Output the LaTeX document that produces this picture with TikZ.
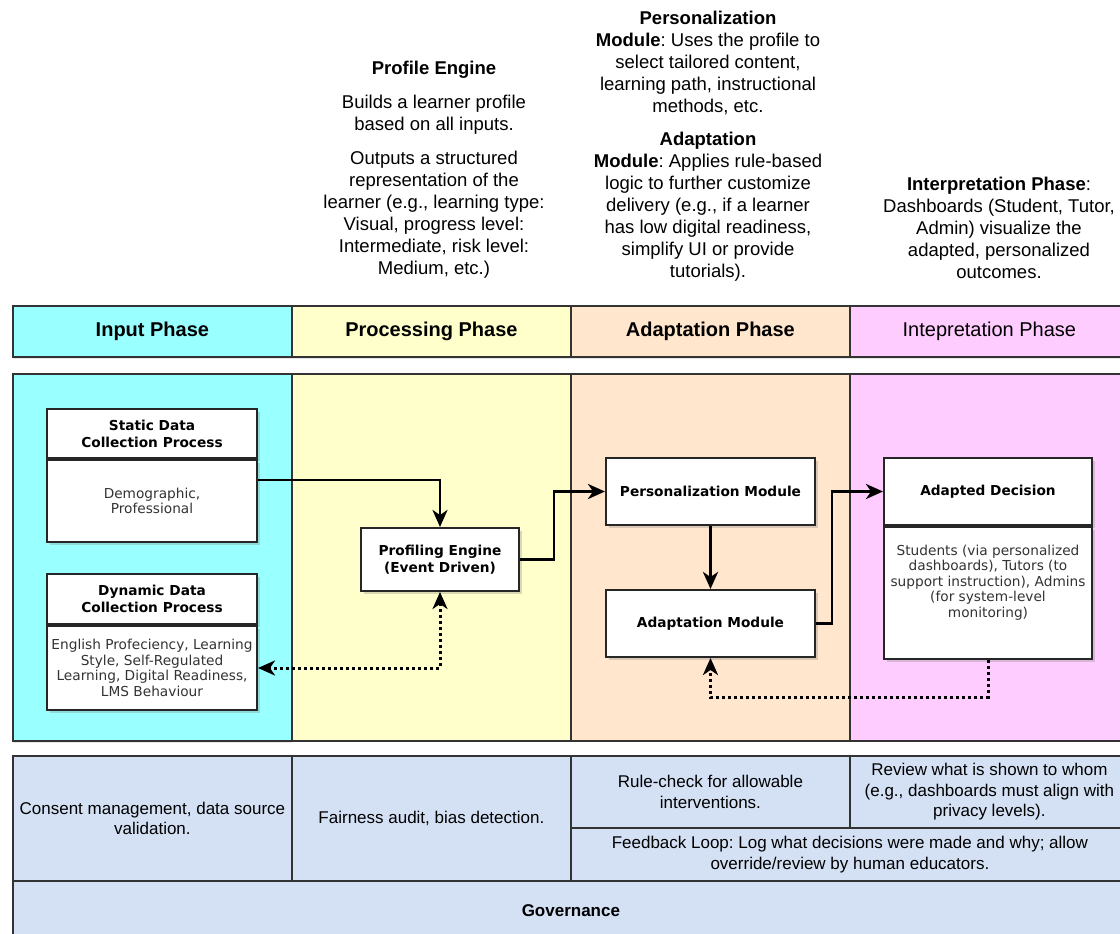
\documentclass[tikz,border=0pt]{standalone}
\usepackage{fontspec}
\setmainfont{Liberation Sans}
\newfontfamily\boxfont{DejaVu Sans}
\usetikzlibrary{arrows.meta,shadows}
\definecolor{incyan}{HTML}{99FFFF}
\definecolor{procyellow}{HTML}{FFFFCC}
\definecolor{adaptpeach}{HTML}{FFE6CC}
\definecolor{interppink}{HTML}{FFCCFF}
\definecolor{govblue}{HTML}{D4E1F5}

\begin{document}
\frenchspacing
\begin{tikzpicture}[x=1pt,y=-1pt,
    >={Stealth[length=17pt,width=15pt,inset=5pt]},
    cell/.style={draw=black!80, line width=1.8pt, anchor=north west, inner sep=0pt, align=center},
    phasehead/.style={cell, minimum width=279pt, minimum height=51pt, font=\fontsize{20}{24}\selectfont\bfseries,
        drop shadow={shadow xshift=0pt, shadow yshift=-2.5pt, opacity=0.2}},
    lane/.style={cell, minimum width=279pt, minimum height=367pt},
    govcell/.style={cell, fill=govblue, font=\fontsize{17}{20.5}\selectfont},
    note/.style={align=center, font=\fontsize{18.5}{22}\selectfont},
    procbox/.style={draw=black!85, line width=2pt, fill=white, anchor=north west, inner sep=2pt, align=center,
        drop shadow={shadow xshift=3pt, shadow yshift=-3pt, opacity=0.3}},
    boxhead/.style={procbox, font=\boxfont\fontsize{13.7}{17}\selectfont\bfseries},
    boxbody/.style={procbox, font=\boxfont\fontsize{13.7}{15.5}\selectfont, text=black!80},
    flow/.style={line width=2.8pt, ->},
    fb/.style={flow, line width=3pt, dash pattern=on 3pt off 3pt}]
    \useasboundingbox (0,0) rectangle (1120,934);
    \fill[white] (0,0) rectangle (1120,934);
    \clip (0,0) rectangle (1120,934);

    \node[note] (profnote) at (434,170) {\textbf{Profile Engine}\\[12pt]Builds a learner profile\\based on all inputs.\\[12pt]Outputs a structured\\representation of the\\learner (e.g., learning type:\\Visual, progress level:\\Intermediate, risk level:\\Medium, etc.)};
    \node[note] (persnote) at (708,146) {\textbf{Personalization}\\\textbf{Module}: Uses the profile to\\select tailored content,\\learning path, instructional\\methods, etc.\\[11pt]\textbf{Adaptation}\\\textbf{Module}: Applies rule-based\\logic to further customize\\delivery (e.g., if a learner\\has low digital readiness,\\simplify UI or provide\\tutorials).};
    \node[note] (interpnote) at (999,228) {\textbf{Interpretation Phase}:\\Dashboards (Student, Tutor,\\Admin) visualize the\\adapted, personalized\\outcomes.};

    \node[lane, fill=incyan, drop shadow={shadow xshift=0pt, shadow yshift=-2.5pt, opacity=0.2}] (inlane) at (12,373) {};
    \node[lane, fill=procyellow] (proclane) at (291,373) {};
    \node[lane, fill=adaptpeach] (adaptlane) at (570,373) {};
    \node[lane, fill=interppink] (interplane) at (849,373) {};

    \node[phasehead, fill=incyan] (inhead) at (12,305) {Input Phase};
    \node[phasehead, fill=procyellow] (prochead) at (291,305) {Processing Phase};
    \node[phasehead, fill=adaptpeach] (adapthead) at (570,305) {Adaptation Phase};
    \node[phasehead, fill=interppink, font=\fontsize{20}{24}\selectfont] (interphead) at (849,305) {Intepretation Phase};

    \node[boxhead, minimum width=210pt, minimum height=49pt] (stathead) at (46,408) {Static Data\\Collection Process};
    \node[boxbody, minimum width=210pt, minimum height=82pt] (statbody) at (stathead.south west) {Demographic,\\Professional};
    \node[boxhead, minimum width=210pt, minimum height=50pt] (dynhead) at (46,573) {Dynamic Data\\Collection Process};
    \node[boxbody, minimum width=210pt, minimum height=84pt] (dynbody) at (dynhead.south west) {English Profeciency, Learning\\Style, Self-Regulated\\Learning, Digital Readiness,\\LMS Behaviour};
    \node[boxhead, minimum width=158pt, minimum height=63pt] (profeng) at (360,527) {Profiling Engine\\(Event Driven)};
    \node[boxhead, minimum width=209pt, minimum height=67pt] (persmod) at (605,457) {Personalization Module};
    \node[boxhead, minimum width=209pt, minimum height=67pt] (adaptmod) at (605,589) {Adaptation Module};
    \node[boxhead, minimum width=208pt, minimum height=67pt] (dechead) at (883,457) {Adapted Decision};
    \node[boxbody, minimum width=208pt, minimum height=132pt] (decbody) at (dechead.south west) {Students (via personalized\\dashboards), Tutors (to\\support instruction), Admins\\(for system-level\\monitoring)\\[8pt]};

    \draw[flow] ([yshift=21pt]statbody.east) -| (profeng.north);
    \draw[flow] (profeng.east) -- ++(34,0) |- (persmod.west);
    \draw[flow] (persmod.south) -- (adaptmod.north);
    \draw[flow] (adaptmod.east) -- ++(16,0) |- (dechead.west);
    \draw[fb, <->] (profeng.south) |- (dynbody.east);
    \draw[fb] (decbody.south) -- ++(0,37) -| (adaptmod.south);

    \node[govcell, minimum width=279pt, minimum height=125pt] (consent) at (12,755) {Consent management, data source\\validation.};
    \node[govcell, minimum width=279pt, minimum height=125pt] (fairness) at (291,755) {Fairness audit, bias detection.};
    \node[govcell, minimum width=279pt, minimum height=72pt] (rulecheck) at (570,755) {Rule-check for allowable\\interventions.};
    \node[govcell, minimum width=279pt, minimum height=72pt] (review) at (849,755) {Review what is shown to whom\\(e.g., dashboards must align with\\privacy levels).};
    \node[govcell, minimum width=558pt, minimum height=53pt] (feedback) at (570,827) {Feedback Loop: Log what decisions were made and why; allow\\override/review by human educators.};
    \node[govcell, minimum width=1116pt, minimum height=60pt, font=\fontsize{17}{20.5}\selectfont\bfseries] (governance) at (12,880) {Governance};
\end{tikzpicture}
\end{document}
